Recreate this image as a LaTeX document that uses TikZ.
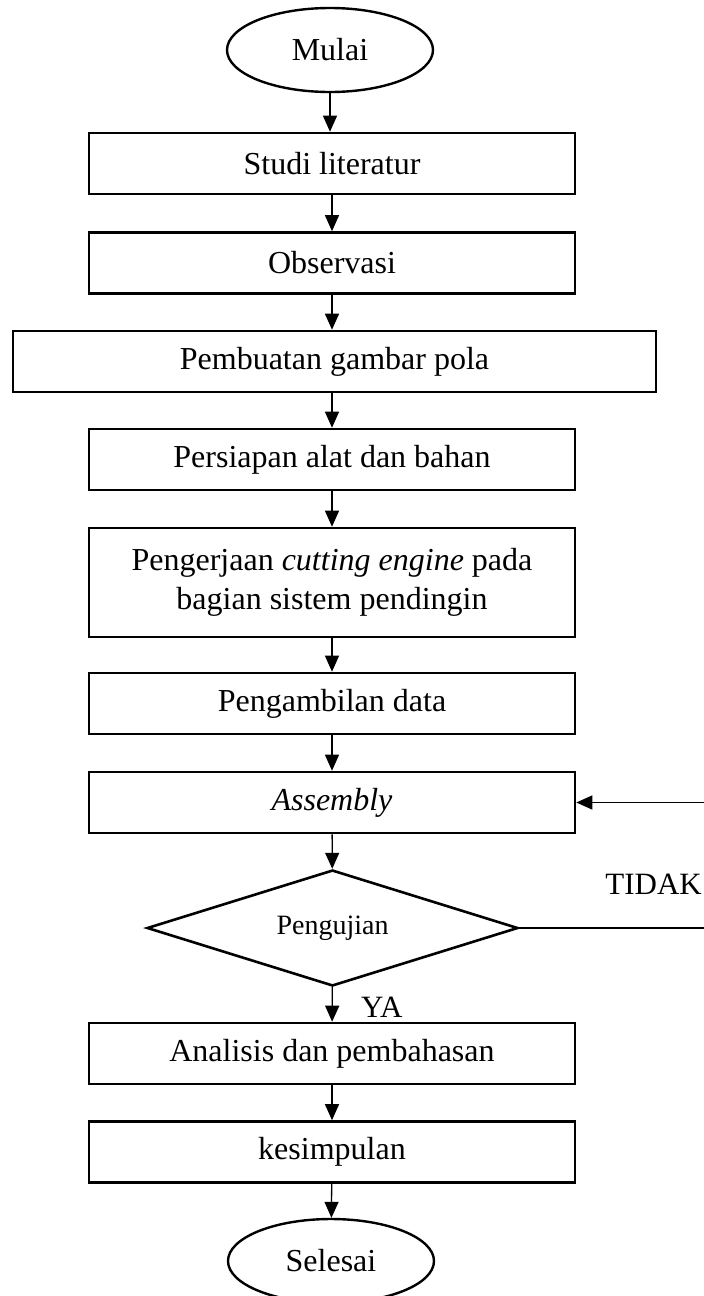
\documentclass[tikz,border=0pt]{standalone}
\usepackage{fontspec}
\setmainfont{Liberation Serif}
\usetikzlibrary{shapes.geometric,arrows.meta}

\begin{document}
\begin{tikzpicture}[x=1pt,y=-1pt,
  box/.style={draw,line width=2.6pt,minimum width=486pt,minimum height=61pt,inner sep=0pt,font=\fontsize{32}{39}\selectfont},
  term/.style={draw,ellipse,line width=2.4pt,minimum width=206pt,minimum height=84pt,inner sep=0pt,font=\fontsize{32}{39}\selectfont},
  decide/.style={draw,diamond,aspect=3.2,line width=2.6pt,minimum width=371pt,minimum height=116pt,inner sep=0pt,font=\fontsize{28}{34}\selectfont},
  flow/.style={-{Triangle[length=16pt,width=14pt]},line width=1.3pt},
  lbl/.style={inner sep=0pt,font=\fontsize{31}{37}\selectfont}]
\path[use as bounding box] (0,0) rectangle (704,1296);
\clip (0,0) rectangle (704,1296);
\node[term] (mulai) at (330,50) {Mulai};
\node[box] (studi) at (332,163.5) {Studi literatur};
\node[box] (obs) at (332,263) {Observasi};
\node[box,minimum width=643pt] (pola) at (334.5,361.5) {Pembuatan gambar pola};
\node[box] (siap) at (332,459.5) {Persiapan alat dan bahan};
\node[box,minimum height=109pt,align=center] (kerja) at (332,582.5) {Pengerjaan \textit{cutting engine} pada\\bagian sistem pendingin};
\node[box] (data) at (332,703.5) {Pengambilan data};
\node[box] (asm) at (332,802.5) {\textit{Assembly}};
\node[decide] (uji) at (332.5,928) {Pengujian};
\node[box] (analisis) at (332,1053.5) {Analisis dan pembahasan};
\node[box] (simpul) at (332,1152) {kesimpulan};
\node[term] (selesai) at (331,1261) {Selesai};
\node[lbl,anchor=base west] (ya) at (361,1017) {YA};
\node[lbl,anchor=base east] (tidak) at (702,894) {TIDAK};
\coordinate (balik) at (740,928);
\draw[flow] (mulai) -- (mulai |- studi.north);
\draw[flow] (studi) -- (obs);
\draw[flow] (obs) -- (obs |- pola.north);
\draw[flow] (pola.south -| siap.north) -- (siap);
\draw[flow] (siap) -- (kerja);
\draw[flow] (kerja) -- (data);
\draw[flow] (data) -- (asm);
\draw[flow] (asm) -- (uji);
\draw[flow] (uji) -- (analisis);
\draw[flow] (analisis) -- (simpul);
\draw[flow] (simpul) -- (selesai);
\draw[flow] (uji.east) -- (balik) |- (asm.east);
\end{tikzpicture}
\end{document}
